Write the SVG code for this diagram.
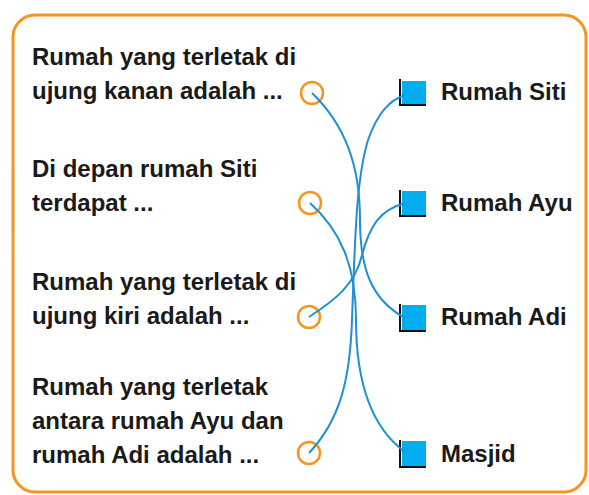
<svg xmlns="http://www.w3.org/2000/svg" width="589" height="495" viewBox="0 0 589 495">
<style>
.t{font-family:"Liberation Sans",Arial,sans-serif;font-size:24px;font-weight:bold;fill:#1a1a1a}
.c{fill:none;stroke:#F7941D;stroke-width:2.5}
.sq{fill:#00AEEF}
.sh{fill:none;stroke:#111;stroke-width:2}
.ln{fill:none;stroke:#1F8FD8;stroke-width:2}
</style>
<rect x="13" y="15" width="573" height="477" rx="22" fill="#fff" stroke="#F7941D" stroke-width="3"/>
<g id="q1"><text class="t" x="32" y="65">Rumah yang terletak di</text><text class="t" x="32" y="99">ujung kanan adalah ...</text><circle class="c" cx="312" cy="93" r="11"/></g>
<g id="q2"><text class="t" x="32" y="177">Di depan rumah Siti</text><text class="t" x="32" y="211">terdapat ...</text><circle class="c" cx="310" cy="203" r="11"/></g>
<g id="q3"><text class="t" x="32" y="290">Rumah yang terletak di</text><text class="t" x="32" y="324">ujung kiri adalah ...</text><circle class="c" cx="309" cy="317" r="11"/></g>
<g id="q4"><text class="t" x="32" y="395">Rumah yang terletak</text><text class="t" x="32" y="429">antara rumah Ayu dan</text><text class="t" x="32" y="463">rumah Adi adalah ...</text><circle class="c" cx="309" cy="453" r="11"/></g>
<g id="a1"><polyline class="sh" points="400,79 400,105 426,105"/><rect class="sq" x="402" y="81" width="24" height="23"/><text class="t" x="441" y="100">Rumah Siti</text></g>
<g id="a2"><polyline class="sh" points="400,190 400,216 426,216"/><rect class="sq" x="402" y="191" width="24" height="24"/><text class="t" x="441" y="211">Rumah Ayu</text></g>
<g id="a3"><polyline class="sh" points="400,304 400,331 426,331"/><rect class="sq" x="402" y="305" width="24" height="25"/><text class="t" x="441" y="325">Rumah Adi</text></g>
<g id="a4"><polyline class="sh" points="400,440 400,467 426,467"/><rect class="sq" x="402" y="441" width="24" height="25"/><text class="t" x="441" y="462">Masjid</text></g>
<g id="connectors">
<path class="ln" d="M312,93 C345,125 360,165 360,220 C360,270 372,300 405,318"/>
<path class="ln" d="M310,203 C340,230 356,265 356,320 C356,390 375,430 405,452"/>
<path class="ln" d="M309,317 C335,300 355,285 362,255 C370,225 380,210 405,203"/>
<path class="ln" d="M309,453 C340,420 350,380 352,320 C355,240 356,180 368,140 C378,112 390,100 405,95"/>
</g>
</svg>
